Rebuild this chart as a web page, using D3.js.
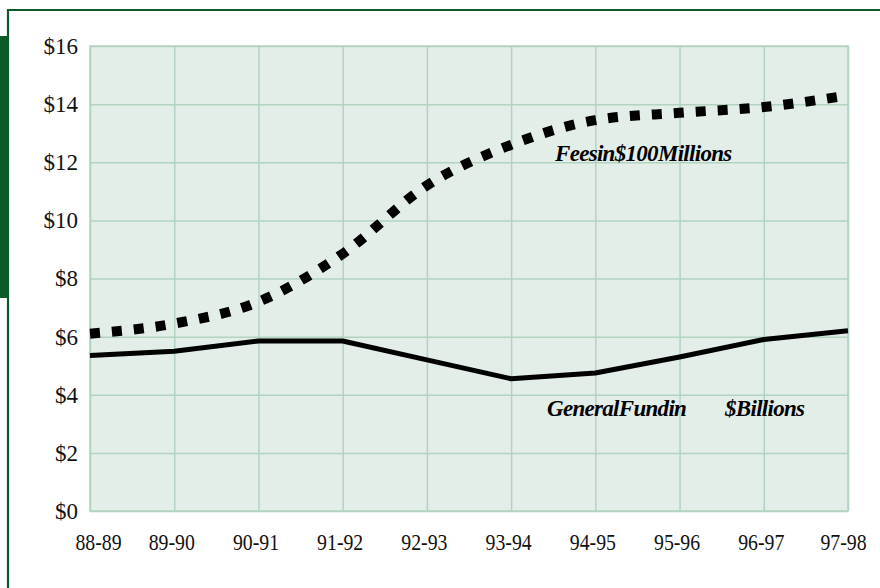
<!DOCTYPE html>
<html><head><meta charset="utf-8">
<script src="https://cdn.jsdelivr.net/npm/d3@7"></script>
<style>
html,body{margin:0;padding:0;background:#fff;}
svg{display:block;}
</style></head>
<body>
<svg id="chart" width="880" height="588"></svg>
<script>
const years = ["88-89","89-90","90-91","91-92","92-93","93-94","94-95","95-96","96-97","97-98"];
const feesIn100M = [6.1, 6.45, 7.2, 8.85, 11.2, 12.6, 13.45, 13.7, 13.9, 14.3];
const generalFundB = [5.35, 5.5, 5.85, 5.85, 5.2, 4.55, 4.75, 5.3, 5.9, 6.2];
const yTicks = [0, 2, 4, 6, 8, 10, 12, 14, 16];
const feesLabel = "Feesin$100Millions";
const fundLabel1 = "GeneralFundin";
const fundLabel2 = "$Billions";

const svg = d3.select("#chart");
const W = 880, H = 588;
const plot = {left: 90, right: 848, top: 46, bottom: 511};

// frame decorations
svg.append("rect").attr("x", 0).attr("y", 36).attr("width", 7).attr("height", 262).attr("fill", "#0b5a28");
svg.append("path").attr("d", `M8,${H} L8,10 L${W},10`).attr("fill", "none").attr("stroke", "#0b5a28").attr("stroke-width", 2.2);

const x = d3.scalePoint().domain(years).range([plot.left, plot.right]).padding(0);
const y = d3.scaleLinear().domain([0, 16]).range([plot.bottom, plot.top]);

// plot background
svg.append("rect").attr("x", plot.left).attr("y", plot.top)
  .attr("width", plot.right - plot.left).attr("height", plot.bottom - plot.top)
  .attr("fill", "#e4eee9");

const gridColor = "#b2d3c0";
svg.append("g").attr("transform", `translate(${plot.left},0)`)
  .call(d3.axisLeft(y).tickValues(yTicks).tickSize(-(plot.right - plot.left)).tickFormat(""))
  .call(g => g.select(".domain").remove())
  .call(g => g.selectAll("line").attr("stroke", gridColor).attr("stroke-width", 1.5));
svg.append("g").attr("transform", `translate(0,${plot.bottom})`)
  .call(d3.axisBottom(x).tickSize(-(plot.bottom - plot.top)).tickFormat(""))
  .call(g => g.select(".domain").remove())
  .call(g => g.selectAll("line").attr("stroke", gridColor).attr("stroke-width", 1.5));
svg.append("rect").attr("x", plot.left).attr("y", plot.top)
  .attr("width", plot.right - plot.left).attr("height", plot.bottom - plot.top)
  .attr("fill", "none").attr("stroke", gridColor).attr("stroke-width", 1.5);

const font = "'Liberation Serif','Times New Roman',serif";
// Y axis labels
svg.append("g").attr("transform", `translate(78,0)`)
  .call(d3.axisLeft(y).tickValues(yTicks).tickSize(0).tickPadding(0).tickFormat(d => "$" + d))
  .call(g => g.select(".domain").remove())
  .call(g => g.selectAll("text").attr("font-family", font).attr("font-size", 23).attr("fill", "#111"));

// X axis labels
svg.append("g").attr("transform", `translate(0,${plot.bottom})`)
  .call(d3.axisBottom(x).tickSize(0).tickPadding(23))
  .call(g => g.select(".domain").remove())
  .call(g => g.selectAll("text").attr("font-family", font).attr("font-size", 23).attr("fill", "#111")
    .attr("transform", "scale(0.86,1)")
    .attr("dx", (d, i) => (i === 0 ? 8 : (i === years.length - 1 ? -5 : -3)) / 0.86));

// lines
const fundLine = d3.line().x((d, i) => x(years[i])).y(d => y(d));
const feesLine = d3.line().x((d, i) => x(years[i])).y(d => y(d)).curve(d3.curveMonotoneX);
svg.append("path").datum(generalFundB).attr("d", fundLine)
  .attr("fill", "none").attr("stroke", "#000").attr("stroke-width", 5).attr("stroke-linejoin", "round");
svg.append("path").datum(feesIn100M).attr("d", feesLine)
  .attr("fill", "none").attr("stroke", "#000").attr("stroke-width", 10)
  .attr("stroke-dasharray", "10,12");

// labels
function label(txt, xx, yy) {
  svg.append("text").attr("x", xx).attr("y", yy).text(txt)
    .attr("font-family", font).attr("font-size", 23).attr("font-weight", "bold").attr("font-style", "italic")
    .attr("letter-spacing", "-0.7px").attr("fill", "#000");
}
label(feesLabel, 555, 161);
label(fundLabel1, 547, 416);
label(fundLabel2, 725, 416);
</script>
</body></html>
